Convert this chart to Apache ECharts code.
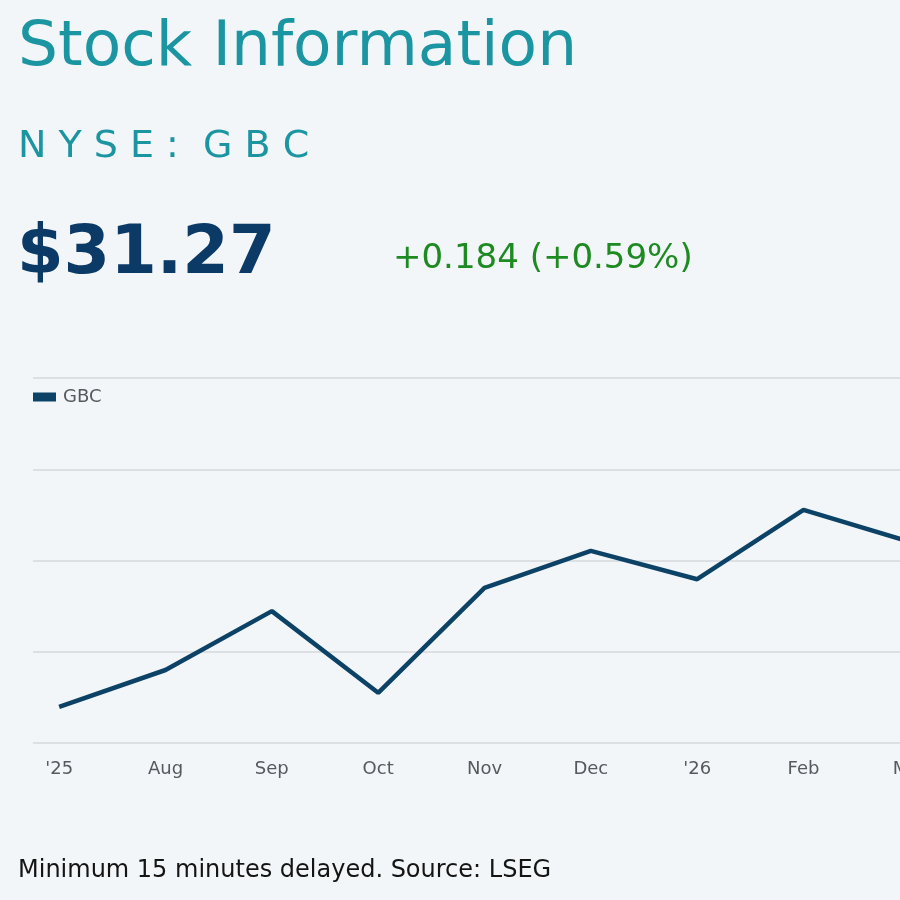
<!DOCTYPE html>
<html>
<head>
<meta charset="utf-8">
<script src="https://cdn.jsdelivr.net/npm/echarts@6/dist/echarts.min.js"></script>
<style>
  html, body { margin: 0; padding: 0; background: #f3f6f8; }
  #chart { width: 900px; height: 900px; }
</style>
</head>
<body>
<div id="chart"></div>
<script>
// ---------------- data ----------------
var months = ["'25", 'Aug', 'Sep', 'Oct', 'Nov', 'Dec', "'26", 'Feb', 'Mar'];
var gbcPrice = [24.79, 25.60, 26.89, 25.10, 27.40, 28.21, 27.59, 29.11, 28.41];
var seriesName = 'GBC';
var headline = 'Stock Information';
var ticker = 'N Y S E :  G B C';
var lastPrice = '$31.27';
var change = '+0.184 (+0.59%)';
var footNote = 'Minimum 15 minutes delayed. Source: LSEG';

var FONT = '"DejaVu Sans", sans-serif';

var option = {
  backgroundColor: '#f3f6f8',
  animation: false,
  textStyle: { fontFamily: FONT },
  legend: {
    left: 28, top: 383,
    itemWidth: 23, itemHeight: 9, icon: 'rect',
    textStyle: { fontSize: 18, color: '#555a5f', fontFamily: FONT, padding: [0, 0, 0, 2] },
    data: [seriesName]
  },
  grid: [
    // grid 0 only carries the horizontal rules
    { left: 33, top: 378, right: 0, bottom: 157, outerBoundsMode: 'none', containLabel: false },
    // grid 1 carries the line, bands centred on the months (runs past the right edge)
    { left: 6, top: 378, width: 957, bottom: 157, outerBoundsMode: 'none', containLabel: false }
  ],
  xAxis: [
    { gridIndex: 0, type: 'value', show: false, min: 0, max: 1 },
    {
      gridIndex: 1, type: 'category', data: months, boundaryGap: true,
      axisLine: { show: false }, axisTick: { show: false },
      axisLabel: { color: '#555a5f', fontSize: 18, margin: 17, interval: 0, fontFamily: FONT }
    }
  ],
  yAxis: [
    {
      gridIndex: 0, type: 'value', min: 24, max: 32, interval: 2,
      axisLabel: { show: false }, axisLine: { show: false }, axisTick: { show: false },
      splitLine: { lineStyle: { color: '#d5d8db', width: 1.5 } }
    },
    {
      gridIndex: 1, type: 'value', min: 24, max: 32, interval: 2, show: false,
      splitLine: { show: false }
    }
  ],
  series: [{
    name: seriesName,
    type: 'line',
    xAxisIndex: 1, yAxisIndex: 1,
    data: gbcPrice,
    showSymbol: false,
    clip: false,
    color: '#0c4266',
    lineStyle: { width: 4.5, color: '#0c4266' }
  }],
  graphic: [
    { type: 'text', style: { x: 18, y: 48.5, text: headline, font: '63px ' + FONT, fill: '#1a95a1', verticalAlign: 'middle' } },
    { type: 'text', style: { x: 18, y: 147, text: ticker, font: '38px ' + FONT, fill: '#1a95a1', verticalAlign: 'middle' } },
    { type: 'text', style: { x: 17, y: 256, text: lastPrice, font: 'bold 67px ' + FONT, fill: '#0b3a66', verticalAlign: 'middle' } },
    { type: 'text', style: { x: 393, y: 259, text: change, font: '34px ' + FONT, fill: '#1e8a22', verticalAlign: 'middle' } },
    { type: 'text', style: { x: 18, y: 871, text: footNote, font: '24px ' + FONT, fill: '#141414', verticalAlign: 'middle' } }
  ]
};

echarts.init(document.getElementById('chart')).setOption(option);
</script>
</body>
</html>
